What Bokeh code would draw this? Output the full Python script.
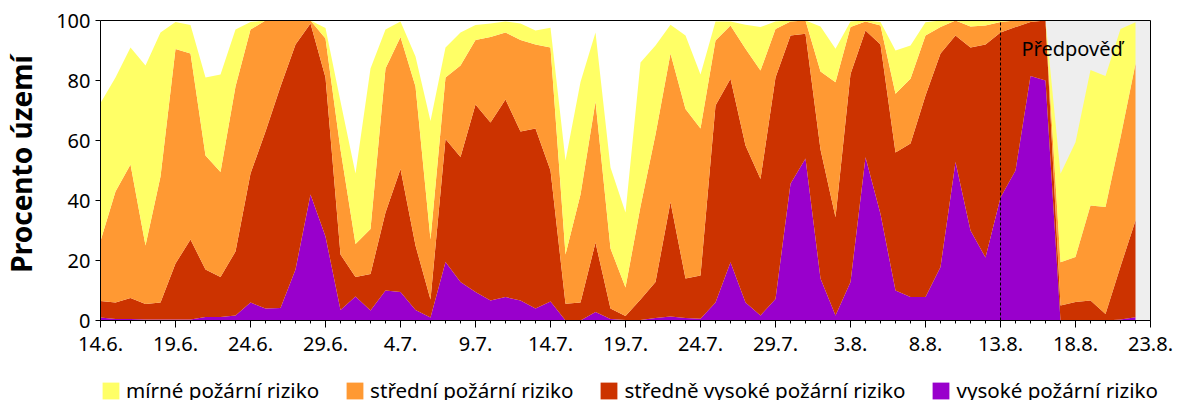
from math import pi

from bokeh.plotting import figure
from bokeh.models import (ColumnDataSource, Range1d, FixedTicker, Legend, LegendItem,
                          BoxAnnotation, Label, LinearAxis)
from bokeh.embed import file_html
from bokeh.resources import INLINE

# share of territory (%) by fire risk level, one value per day from 14.6. to 22.8.
vysoke = [1, 0.5, 0.5, 0.3, 0.3, 0.3, 0.3, 1.2, 1.2, 1.7,
          6, 4, 4.2, 17, 42, 28, 3.5, 8, 3.3, 10,
          9.5, 3.5, 1, 19.5, 12.8, 9.5, 6.7, 7.8, 6.7, 4,
          6.3, 0, 0, 2.8, 0.5, 0.2, 0.2, 0.8, 1.3, 0.8,
          0.6, 6, 19.4, 6, 1.7, 7.2, 45.6, 54, 14, 1.7,
          12.8, 54.4, 35.5, 10, 7.8, 7.8, 17.8, 52.8, 30, 21,
          41, 50, 81.5, 80, 0, 0, 0, 0, 0.3, 1.1]
stredne_vysoke = [5.5, 5.5, 7, 5.2, 5.7, 18.7, 26.7, 15.8, 13.3, 21.3,
                  43, 59, 73.8, 75, 57, 53, 18.5, 6.5, 12.2, 26,
                  41, 21.5, 6, 41, 41.7, 62.5, 59.3, 65.9, 56.3, 60,
                  43.7, 5.6, 6, 23.2, 3.5, 1.3, 6.8, 12, 38.2, 13.2,
                  14.4, 65.7, 61.2, 52.3, 45.5, 73.8, 49.4, 41.6, 43, 32.7,
                  69.4, 42.3, 56.5, 46, 51.2, 67.2, 71.2, 42.2, 61, 71,
                  55, 47.8, 18, 20, 5, 6.2, 6.7, 2.2, 17.7, 32.2]
stredni = [20, 37, 44.5, 19.5, 42, 71.5, 62, 38, 35, 55,
           48, 37, 22, 8, 1, 13, 35, 11, 15, 48,
           44, 53, 20, 20.5, 30.5, 21.5, 28.5, 22.3, 30.5, 28,
           41, 16.4, 36, 47, 20, 9.5, 31, 49.2, 49.5, 56.5,
           49, 21.6, 17.7, 32.3, 36.1, 16.2, 4.7, 4.4, 26, 45,
           15.6, 3, 6.3, 19.6, 21.6, 20, 8.8, 5, 7, 6.3,
           3.5, 2.2, 0.5, 0, 14.4, 15, 31.6, 35.6, 43, 52.3]
mirne = [46, 38, 39, 60, 48, 9, 9.5, 26, 32.5, 19,
         2.5, 0, 0, 0, 0, 3.5, 16, 23.5, 53.5, 13,
         5.2, 10, 39.5, 10, 11, 5, 4.5, 3.7, 5.5, 4.7,
         6.6, 31.3, 37.5, 23, 27, 25, 48, 29.7, 9.6, 24.5,
         18, 6.4, 1.4, 8, 14.5, 2.5, 0.3, 0, 15, 11.2,
         1.9, 0.3, 1.2, 14.4, 11.1, 4.4, 2.2, 0, 2, 1.7,
         0.5, 0, 0, 0, 29.5, 38.2, 45.2, 43.7, 36.2, 13.8]

# tick every 5 days
tick_labels = ["14.6.", "19.6.", "24.6.", "29.6.", "4.7.", "9.7.", "14.7.", "19.7.",
               "24.7.", "29.7.", "3.8.", "8.8.", "13.8.", "18.8.", "23.8."]
forecast_from = "13.8."

names = ["vysoke", "stredne_vysoke", "stredni", "mirne"]
labels = ["vysoké požární riziko", "středně vysoké požární riziko",
          "střední požární riziko", "mírné požární riziko"]
colors = ["#9900CC", "#CC3300", "#FF9933", "#FFFF66"]

FONT = "Noto Sans"

days = list(range(len(vysoke)))
n_axis = (len(tick_labels) - 1) * 5
source = ColumnDataSource(data=dict(day=days, vysoke=vysoke, stredne_vysoke=stredne_vysoke,
                                    stredni=stredni, mirne=mirne))

# the frame covers the whole canvas (annotations in it are clipped to it);
# 15 px per day and 3 px per percent, with room around for labels and legend
PX_DAY, PX_PCT = 15, 3
p = figure(width=1200, height=400, title=None, toolbar_location=None, output_backend="svg",
           x_range=Range1d(-100 / PX_DAY, n_axis + 50 / PX_DAY),
           y_range=Range1d(-80 / PX_PCT, 100 + 20 / PX_PCT),
           min_border=0, min_border_left=0, min_border_right=0,
           min_border_top=0, min_border_bottom=0)
p.grid.visible = False
p.outline_line_color = None

# forecast part: grey background + dashed divider
f0 = tick_labels.index(forecast_from) * 5
p.add_layout(BoxAnnotation(left=f0, right=n_axis, bottom=0, top=100, fill_color="#EEEEEE",
                           fill_alpha=1, line_color=None, level="underlay"))

rs = p.varea_stack(stackers=names, x="day", color=colors, source=source)

p.segment(x0=[f0], y0=[0], x1=[f0], y1=[100], line_color="black", line_width=1, line_dash="3 2")
p.add_layout(Label(x=f0 + 1.4, y=90.6, text="Předpověď", text_font=FONT,
                   text_font_size="20px", text_color="black", text_baseline="alphabetic"))

xax, yax = p.xaxis[0], p.yaxis[0]
xax.fixed_location = 0
xax.bounds = (0, n_axis)
xax.ticker = FixedTicker(ticks=list(range(0, n_axis + 1, 5)), minor_ticks=list(range(n_axis + 1)))
xax.major_label_overrides = {i * 5: t for i, t in enumerate(tick_labels)}
yax.fixed_location = 0
yax.bounds = (0, 100)
yax.ticker = FixedTicker(ticks=[0, 20, 40, 60, 80, 100], minor_ticks=[])

for ax in (xax, yax):
    ax.axis_line_color = "black"
    ax.major_tick_line_color = "black"
    ax.minor_tick_line_color = "black"
    ax.major_tick_in = 0
    ax.minor_tick_in = 0
    ax.major_label_text_font = FONT
    ax.major_label_text_font_size = "20px"
    ax.major_label_text_color = "black"

xax.major_tick_out = 7
xax.minor_tick_out = 3
xax.major_label_standoff = 9
yax.major_tick_out = 5
yax.minor_tick_out = 0
yax.major_label_standoff = 5

# frame border on top and right: bare axes without ticks
for side, loc, bnds in (("above", 100, (0, n_axis)), ("right", n_axis, (0, 100))):
    p.add_layout(LinearAxis(ticker=FixedTicker(ticks=[], minor_ticks=[]), fixed_location=loc,
                            bounds=bnds, axis_line_color="black", major_tick_out=0,
                            major_tick_in=0, minor_tick_out=0, minor_tick_in=0,
                            major_label_standoff=0), side)

p.add_layout(Label(x=20, y=52.2, x_units="screen", text="Procento území", angle=pi / 2,
                   text_align="center", text_baseline="alphabetic", text_font=FONT,
                   text_font_size="28px", text_font_style="bold", text_color="black"))

items = [LegendItem(label=labels[i], renderers=[rs[i]]) for i in (3, 2, 1, 0)]
legend = Legend(items=items, orientation="horizontal", location=(100, -4),
                glyph_width=21, glyph_height=21, label_standoff=5, spacing=25,
                padding=0, margin=0, border_line_color=None, background_fill_alpha=0,
                label_text_font=FONT, label_text_font_size="20.6px", label_text_color="black")
p.add_layout(legend)

open("out.html", "w").write(file_html(p, INLINE))
